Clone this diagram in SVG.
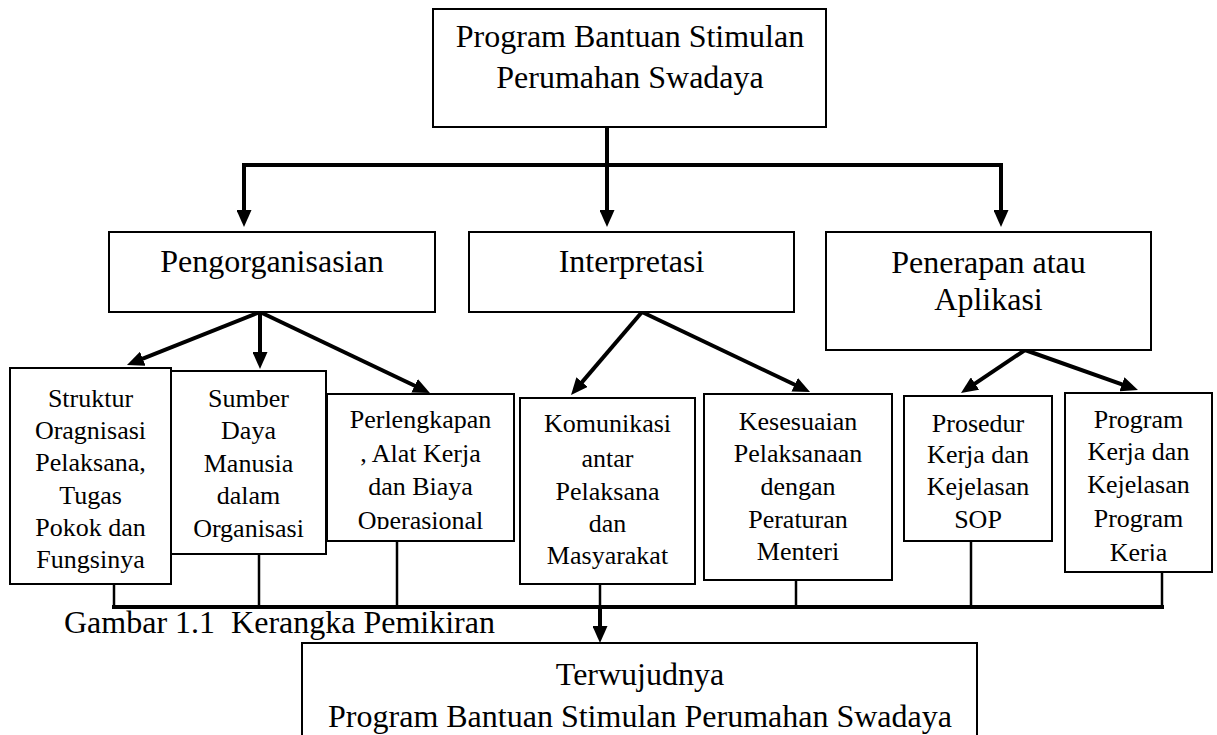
<svg xmlns="http://www.w3.org/2000/svg" width="1217" height="735" viewBox="0 0 1217 735">
<style>
.box{fill:#fff;stroke:#000;stroke-width:2}
.big{font-family:"Liberation Serif","Times New Roman",serif;font-size:32px;fill:#000;text-anchor:middle}
.sm{font-family:"Liberation Serif","Times New Roman",serif;font-size:26px;fill:#000;text-anchor:middle}
.cap{font-family:"Liberation Serif","Times New Roman",serif;font-size:32px;fill:#000}
.ln{fill:none;stroke:#000;stroke-width:4;stroke-linejoin:miter}
.stub{fill:none;stroke:#000;stroke-width:2.5}
</style>
<defs>
<marker id="ah" markerUnits="userSpaceOnUse" markerWidth="17" markerHeight="15" refX="6" refY="7.5" orient="auto">
<path d="M0,0 L17,7.5 L0,15 z" fill="#000"/>
</marker>
<clipPath id="clipPerl"><rect x="327" y="394" width="187" height="135"/></clipPath>
<clipPath id="clipProg"><rect x="1065" y="393" width="147" height="168"/></clipPath>
</defs>

<g id="connectors">
<line class="ln" x1="607" y1="127" x2="607" y2="216" marker-end="url(#ah)"/>
<line class="ln" x1="244" y1="165" x2="244" y2="216" marker-end="url(#ah)"/>
<line class="ln" x1="1001" y1="165" x2="1001" y2="216" marker-end="url(#ah)"/>
<line class="ln" x1="242" y1="165" x2="1003" y2="165"/>
<line class="ln" x1="260" y1="312" x2="137.2" y2="360.9" marker-end="url(#ah)"/>
<line class="ln" x1="260" y1="312" x2="260" y2="358" marker-end="url(#ah)"/>
<line class="ln" x1="260" y1="312" x2="420" y2="388.3" marker-end="url(#ah)"/>
<line class="ln" x1="642" y1="312" x2="578.2" y2="386.6" marker-end="url(#ah)"/>
<line class="ln" x1="642" y1="312" x2="800.1" y2="387.3" marker-end="url(#ah)"/>
<line class="ln" x1="1025" y1="350" x2="970.1" y2="386.9" marker-end="url(#ah)"/>
<line class="ln" x1="1025" y1="350" x2="1127.6" y2="386.3" marker-end="url(#ah)"/>
<line class="stub" x1="114" y1="584" x2="114" y2="607"/>
<line class="stub" x1="259" y1="554" x2="259" y2="607"/>
<line class="stub" x1="397" y1="541" x2="397" y2="607"/>
<line class="stub" x1="600" y1="584" x2="600" y2="607"/>
<line class="stub" x1="796" y1="580" x2="796" y2="607"/>
<line class="stub" x1="971" y1="541" x2="971" y2="607"/>
<line class="stub" x1="1162" y1="572" x2="1162" y2="607"/>
<line class="ln" x1="112" y1="607" x2="1164" y2="607"/>
<line class="ln" x1="600" y1="607" x2="600" y2="632" marker-end="url(#ah)"/>
</g>

<g id="top">
<rect class="box" x="433" y="9" width="393" height="118"/>
<text class="big" x="630" y="47">Program Bantuan Stimulan</text>
<text class="big" x="630" y="88">Perumahan Swadaya</text>
</g>

<g id="pengorganisasian">
<rect class="box" x="109" y="232" width="326" height="80"/>
<text class="big" x="272" y="272">Pengorganisasian</text>
</g>

<g id="interpretasi">
<rect class="box" x="469" y="232" width="325" height="80"/>
<text class="big" x="631.5" y="272">Interpretasi</text>
</g>

<g id="penerapan">
<rect class="box" x="826" y="232" width="325" height="118"/>
<text class="big" x="988.5" y="273">Penerapan atau</text>
<text class="big" x="988.5" y="310">Aplikasi</text>
</g>

<g id="struktur">
<rect class="box" x="10" y="368" width="161" height="216"/>
<text class="sm" x="90.5" y="407">Struktur</text>
<text class="sm" x="90.5" y="439">Oragnisasi</text>
<text class="sm" x="90.5" y="471">Pelaksana,</text>
<text class="sm" x="90.5" y="504">Tugas</text>
<text class="sm" x="90.5" y="536">Pokok dan</text>
<text class="sm" x="90.5" y="568">Fungsinya</text>
</g>

<g id="sumber">
<rect class="box" x="171" y="371" width="155" height="183"/>
<text class="sm" x="248.5" y="407">Sumber</text>
<text class="sm" x="248.5" y="439">Daya</text>
<text class="sm" x="248.5" y="472">Manusia</text>
<text class="sm" x="248.5" y="504">dalam</text>
<text class="sm" x="248.5" y="537">Organisasi</text>
</g>

<g id="perlengkapan">
<rect class="box" x="327" y="394" width="187" height="147"/>
<g clip-path="url(#clipPerl)">
<text class="sm" x="420.5" y="428">Perlengkapan</text>
<text class="sm" x="420.5" y="462">, Alat Kerja</text>
<text class="sm" x="420.5" y="495">dan Biaya</text>
<text class="sm" x="420.5" y="529">Operasional</text>
</g>
</g>

<g id="komunikasi">
<rect class="box" x="520" y="398" width="175" height="186"/>
<text class="sm" x="607.5" y="432">Komunikasi</text>
<text class="sm" x="607.5" y="467">antar</text>
<text class="sm" x="607.5" y="500">Pelaksana</text>
<text class="sm" x="607.5" y="532">dan</text>
<text class="sm" x="607.5" y="564">Masyarakat</text>
</g>

<g id="kesesuaian">
<rect class="box" x="704" y="394" width="188" height="186"/>
<text class="sm" x="798" y="430">Kesesuaian</text>
<text class="sm" x="798" y="462">Pelaksanaan</text>
<text class="sm" x="798" y="495">dengan</text>
<text class="sm" x="798" y="528">Peraturan</text>
<text class="sm" x="798" y="560">Menteri</text>
</g>

<g id="prosedur">
<rect class="box" x="904" y="396" width="148" height="145"/>
<text class="sm" x="978" y="432">Prosedur</text>
<text class="sm" x="978" y="463">Kerja dan</text>
<text class="sm" x="978" y="495">Kejelasan</text>
<text class="sm" x="978" y="528">SOP</text>
</g>

<g id="programkerja">
<rect class="box" x="1065" y="393" width="147" height="179"/>
<g clip-path="url(#clipProg)">
<text class="sm" x="1138.5" y="428">Program</text>
<text class="sm" x="1138.5" y="460">Kerja dan</text>
<text class="sm" x="1138.5" y="493">Kejelasan</text>
<text class="sm" x="1138.5" y="527">Program</text>
<text class="sm" x="1138.5" y="561">Kerja</text>
</g>
</g>

<text class="cap" x="64" y="633">Gambar 1.1&#160; Kerangka Pemikiran</text>

<g id="hasil">
<rect class="box" x="302" y="643" width="675" height="100"/>
<text class="big" x="640" y="685">Terwujudnya</text>
<text class="big" x="640" y="727">Program Bantuan Stimulan Perumahan Swadaya</text>
</g>
</svg>
